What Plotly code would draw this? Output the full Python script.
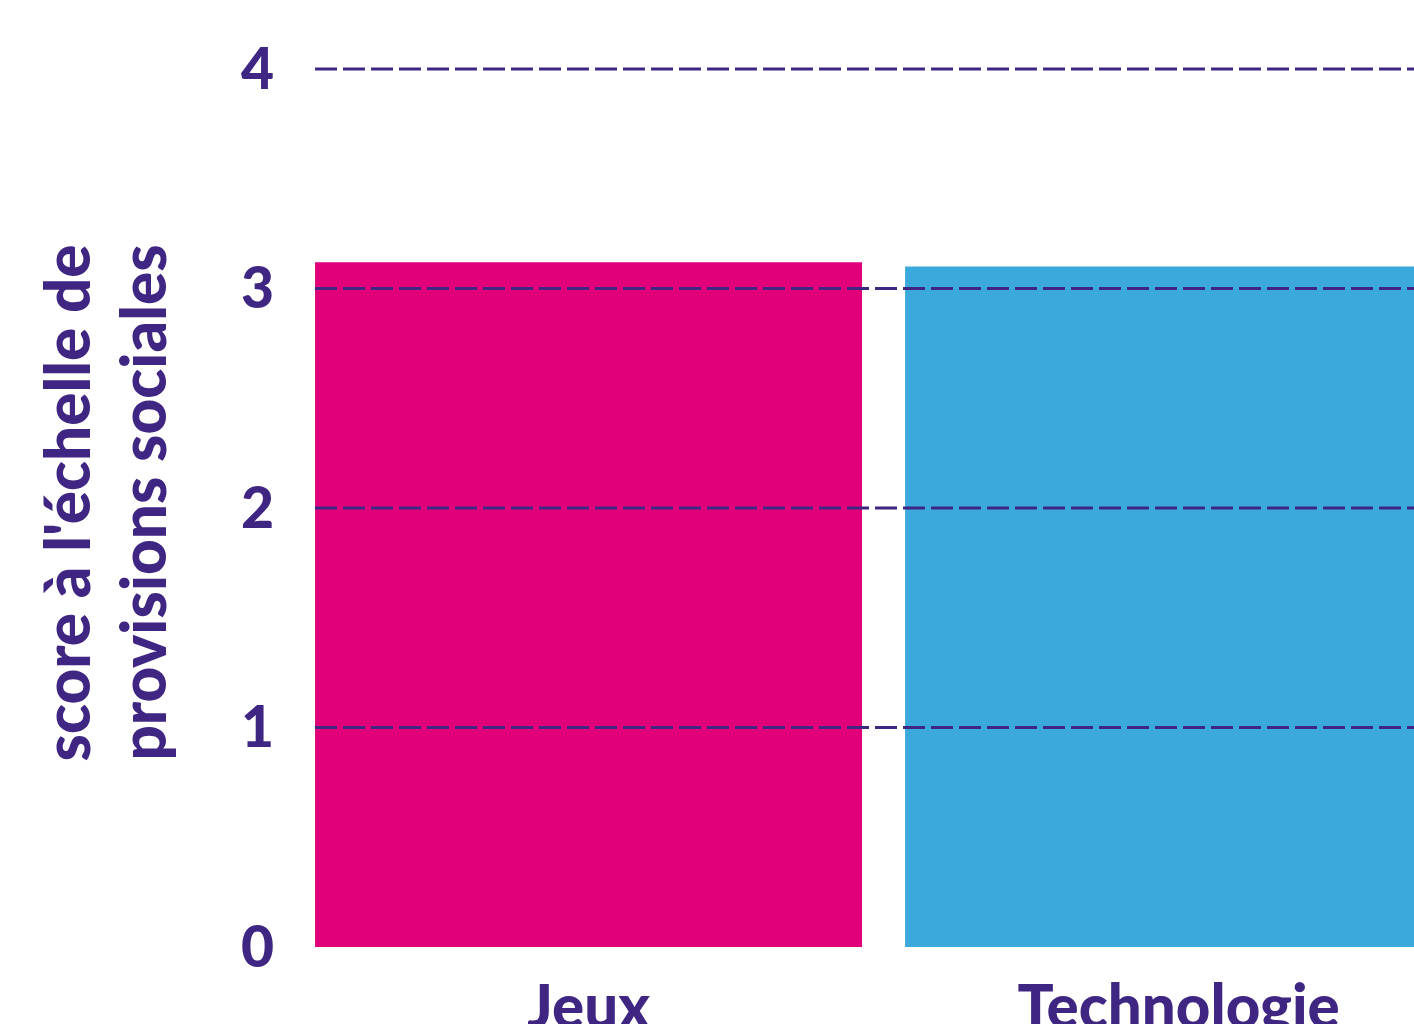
import plotly.graph_objects as go

categories = ["Jeux", "Technologie"]
values = [3.12, 3.10]
bar_colors = ["#E2007A", "#3BA9DC"]
grid_values = [1, 2, 3, 4]
tick_values = [0, 1, 2, 3, 4]
title_lines = ["score à l'échelle de", "provisions sociales"]

PURPLE = "#3F2683"
FONT = "Lato"

fig = go.Figure()
fig.add_trace(go.Bar(x=categories, y=values, marker=dict(color=bar_colors, line=dict(width=0)),
                     showlegend=False, hoverinfo="skip"))

for g in grid_values:
    fig.add_shape(type="line", xref="paper", x0=0, x1=1, yref="y", y0=g, y1=g,
                  line=dict(color=PURPLE, width=3, dash="22px,6px"), layer="above")

fig.add_annotation(text=title_lines[0], xref="paper", yref="paper", x=-0.2266, y=0.5,
                   textangle=-90, showarrow=False, xanchor="center", yanchor="middle",
                   font=dict(family=FONT, size=62, color=PURPLE, weight=900))
fig.add_annotation(text=title_lines[1], xref="paper", yref="paper", x=-0.1583, y=0.5,
                   textangle=-90, showarrow=False, xanchor="center", yanchor="middle",
                   font=dict(family=FONT, size=62, color=PURPLE, weight=900))

fig.update_layout(
    width=1414, height=1024,
    margin=dict(l=315, r=0, t=58, b=77),
    paper_bgcolor="white", plot_bgcolor="white",
    bargap=0.073,
    font=dict(family=FONT, color=PURPLE),
    xaxis=dict(range=[-0.4636, 1.399], showgrid=False, zeroline=False, showline=False,
               ticks="", ticklabelstandoff=20, automargin=False,
               tickfont=dict(family=FONT, size=60, color=PURPLE, weight=900)),
    yaxis=dict(range=[0, 4.05], tickvals=tick_values, showgrid=False, zeroline=False,
               showline=False, ticks="", ticklabelstandoff=40, automargin=False,
               tickfont=dict(family=FONT, size=57, color=PURPLE, weight=900)),
)

fig.write_html("out.html", config={"displayModeBar": False},
               post_script="document.body.style.margin='0';document.body.style.overflow='hidden';")
